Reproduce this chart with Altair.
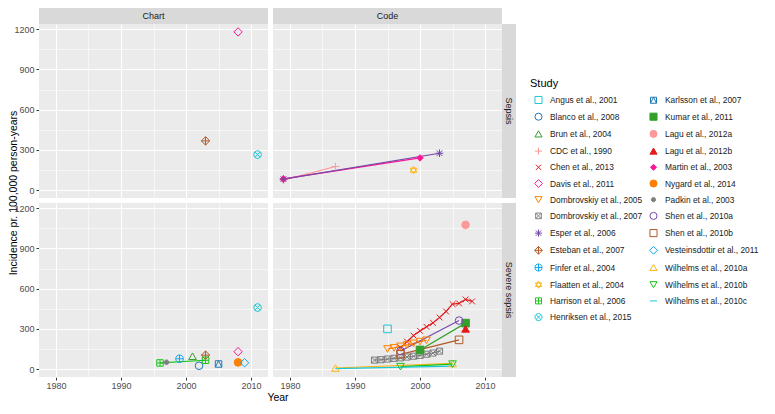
import altair as alt
import pandas as pd

# ---------------- data ----------------
studies_left = [
    "Angus et al., 2001", "Blanco et al., 2008", "Brun et al., 2004", "CDC et al., 1990",
    "Chen et al., 2013", "Davis et al., 2011", "Dombrovskiy et al., 2005",
    "Dombrovskiy et al., 2007", "Esper et al., 2006", "Esteban et al., 2007",
    "Finfer et al., 2004", "Flaatten et al., 2004", "Harrison et al., 2006",
    "Henriksen et al., 2015",
]
studies_right = [
    "Karlsson et al., 2007", "Kumar et al., 2011", "Lagu et al., 2012a", "Lagu et al., 2012b",
    "Martin et al., 2003", "Nygard et al., 2014", "Padkin et al., 2003", "Shen et al., 2010a",
    "Shen et al., 2010b", "Vesteinsdottir et al., 2011", "Wilhelms et al., 2010a",
    "Wilhelms et al., 2010b", "Wilhelms et al., 2010c",
]
studies = studies_left + studies_right

palette = ["#1CC8D4", "#1F78B4", "#33A02C", "#FB9A99", "#E31A1C", "#FF1493", "#FF7F00",
           "#7F7F7F", "#7548A8", "#B15928", "#12A8F0", "#FDB515", "#19C419"]

circle = "M-1,0A1,1,0,1,0,1,0A1,1,0,1,0,-1,0Z"
shape_paths = [
    "square",                                             # 0 open square
    "circle",                                             # 1 open circle
    "triangle-up",                                        # 2 open triangle
    "M-1,0H1M0,-1V1",                                     # 3 plus
    "M-0.75,-0.75L0.75,0.75M-0.75,0.75L0.75,-0.75",       # 4 cross
    "M0,-1.1L1.1,0L0,1.1L-1.1,0Z",                        # 5 open diamond
    "triangle-down",                                      # 6 down triangle
    "M-0.8,-0.8H0.8V0.8H-0.8ZM-0.8,-0.8L0.8,0.8M-0.8,0.8L0.8,-0.8",  # 7 square cross
    "M-1,0H1M0,-1V1M-0.75,-0.75L0.75,0.75M-0.75,0.75L0.75,-0.75",    # 8 asterisk
    "M0,-1.1L1.1,0L0,1.1L-1.1,0ZM-1.1,0H1.1M0,-1.1V1.1",             # 9 diamond plus
    circle + "M-1,0H1M0,-1V1",                            # 10 circle plus
    "M0,-1L0.87,0.5L-0.87,0.5ZM0,1L0.87,-0.5L-0.87,-0.5Z",  # 11 star of david
    "M-0.85,-0.85H0.85V0.85H-0.85ZM-0.85,0H0.85M0,-0.85V0.85",      # 12 square plus
    circle + "M-0.7,-0.7L0.7,0.7M-0.7,0.7L0.7,-0.7",     # 13 circle cross
    "M-0.85,-0.85H0.85V0.85H-0.85ZM-0.85,0.85L0,-0.85L0.85,0.85",    # 14 square triangle
    "square",                                             # 15 filled square
    "circle",                                             # 16 filled circle
    "triangle-up",                                        # 17 filled triangle
    "M0,-0.85L0.85,0L0,0.85L-0.85,0Z",                    # 18 filled diamond
    "circle",                                             # 19 filled circle
    "M-0.6,0A0.6,0.6,0,1,0,0.6,0A0.6,0.6,0,1,0,-0.6,0Z",  # 20 small circle
    "circle",                                             # 21
    "square",                                             # 22
    "M0,-1.1L1.1,0L0,1.1L-1.1,0Z",                        # 23 diamond
    "triangle-up",                                        # 24
    "triangle-down",                                      # 25
    "stroke",                                             # line only
]
filled_studies = ["Kumar et al., 2011", "Lagu et al., 2012a", "Lagu et al., 2012b",
                  "Martin et al., 2003", "Nygard et al., 2014", "Padkin et al., 2003"]

# (study, source, type, years, values)
series = [
    ("Davis et al., 2011", "Chart", "Sepsis", [2008], [1180]),
    ("Esteban et al., 2007", "Chart", "Sepsis", [2003], [367]),
    ("Henriksen et al., 2015", "Chart", "Sepsis", [2011], [265]),

    ("CDC et al., 1990", "Code", "Sepsis", [1979, 1987], [74, 176]),
    ("Martin et al., 2003", "Code", "Sepsis", [1979, 2000], [83, 240]),
    ("Esper et al., 2006", "Code", "Sepsis", [1979, 2003], [82, 275]),
    ("Flaatten et al., 2004", "Code", "Sepsis", [1999], [149]),

    ("Blanco et al., 2008", "Chart", "Severe sepsis", [2002], [25]),
    ("Brun et al., 2004", "Chart", "Severe sepsis", [2001], [96]),
    ("Davis et al., 2011", "Chart", "Severe sepsis", [2008], [130]),
    ("Esteban et al., 2007", "Chart", "Severe sepsis", [2003], [104]),
    ("Finfer et al., 2004", "Chart", "Severe sepsis", [1999], [77]),
    ("Harrison et al., 2006", "Chart", "Severe sepsis", [1996, 2003], [46, 66]),
    ("Henriksen et al., 2015", "Chart", "Severe sepsis", [2011], [459]),
    ("Karlsson et al., 2007", "Chart", "Severe sepsis", [2005], [38]),
    ("Nygard et al., 2014", "Chart", "Severe sepsis", [2008], [50]),
    ("Padkin et al., 2003", "Chart", "Severe sepsis", [1997], [51]),
    ("Vesteinsdottir et al., 2011", "Chart", "Severe sepsis", [2009], [47]),

    ("Angus et al., 2001", "Code", "Severe sepsis", [1995], [300]),
    ("Chen et al., 2013", "Code", "Severe sepsis",
     [1997, 1998, 1999, 2000, 2001, 2002, 2003, 2004, 2005, 2006, 2007, 2008],
     [160, 205, 250, 285, 315, 345, 385, 430, 485, 490, 520, 505]),
    ("Dombrovskiy et al., 2005", "Code", "Severe sepsis",
     [1995, 1996, 1997, 1998, 1999, 2000, 2001],
     [150, 158, 170, 180, 192, 205, 215]),
    ("Dombrovskiy et al., 2007", "Code", "Severe sepsis",
     [1993, 1994, 1995, 1996, 1997, 1998, 1999, 2000, 2001, 2002, 2003],
     [67, 70, 75, 80, 84, 90, 96, 102, 111, 120, 134]),
    ("Kumar et al., 2011", "Code", "Severe sepsis", [2000, 2007], [143, 343]),
    ("Lagu et al., 2012a", "Code", "Severe sepsis", [2007], [1076]),
    ("Lagu et al., 2012b", "Code", "Severe sepsis", [2007], [300]),
    ("Shen et al., 2010a", "Code", "Severe sepsis", [1997, 2006], [135, 362]),
    ("Shen et al., 2010b", "Code", "Severe sepsis", [1997, 2006], [110, 218]),
    ("Wilhelms et al., 2010a", "Code", "Severe sepsis", [1987, 2005], [8, 42]),
    ("Wilhelms et al., 2010b", "Code", "Severe sepsis", [1997, 2005], [18, 37]),
    ("Wilhelms et al., 2010c", "Code", "Severe sepsis", [1987, 2005], [4, 22]),
]

x_ticks = [1980, 1985, 1990, 1995, 2000, 2005, 2010]
y_ticks = [0, 150, 300, 450, 600, 750, 900, 1050, 1200]

rows = []
for study, src, typ, yrs, vals in series:
    for yr, v in zip(yrs, vals):
        rows.append({"Study": study, "Source": src, "Type": typ, "Year": yr, "Value": v})
df = pd.DataFrame(rows)

order = studies
stroke_range = [palette[i % 13] for i in range(len(order))]
fill_range = [palette[i % 13] if s in filled_studies else "transparent" for i, s in enumerate(order)]
shape_range = shape_paths

# ---------------- chart ----------------
FONT = "Liberation Sans"
W, H = 229, 174

legend = alt.Legend(title="Study", orient="none", legendX=491, legendY=54, columns=2,
                    columnPadding=2, rowPadding=4.2, symbolSize=50, symbolStrokeWidth=1,
                    symbolOffset=4, labelFontSize=8.4, labelColor="#1A1A1A", titleFontSize=11,
                    titleFontWeight="normal", titleColor="#000000", labelLimit=300,
                    titlePadding=6, labelOffset=7, symbolOpacity=1)

x_enc = alt.X("Year:Q",
              scale=alt.Scale(domain=[1977.4, 2012.6], nice=False, zero=False),
              axis=alt.Axis(values=x_ticks, title=None, format="d", labelPadding=1,
                            labelExpr="datum.value % 10 == 0 ? datum.label : ''",
                            gridWidth={"condition": {"test": "datum.value % 10 != 0", "value": 0.55}, "value": 1.1},
                            tickOpacity={"condition": {"test": "datum.value % 10 != 0", "value": 0}, "value": 1}))
y_enc = alt.Y("Value:Q",
              scale=alt.Scale(domain=[-59, 1239], nice=False, zero=False),
              axis=alt.Axis(values=y_ticks, title=None, format="d",
                            labelExpr="datum.value % 300 == 0 ? datum.label : ''",
                            gridWidth={"condition": {"test": "datum.value % 300 != 0", "value": 0.55}, "value": 1.1},
                            tickOpacity={"condition": {"test": "datum.value % 300 != 0", "value": 0}, "value": 1}))

stroke_enc = alt.Stroke("Study:N", scale=alt.Scale(domain=order, range=stroke_range), legend=legend)
fill_enc = alt.Fill("Study:N", scale=alt.Scale(domain=order, range=fill_range), legend=legend)
shape_enc = alt.Shape("Study:N", scale=alt.Scale(domain=order, range=shape_range), legend=legend)

cells = alt.Chart().transform_aggregate(n="count()", groupby=["Type", "Source"])
top_cells = cells.transform_filter("datum.Type == 'Sepsis'")
right_cells = cells.transform_filter("datum.Source == 'Code'")

strip_top = top_cells.mark_rect(color="#D9D9D9").encode(
    x=alt.value(0), x2=alt.value(W), y=alt.value(-16), y2=alt.value(0))
strip_top_text = top_cells.mark_text(fontSize=9, color="#1A1A1A", baseline="middle",
                                     align="center").encode(
    x=alt.value(W / 2), y=alt.value(-8), text="Source:N")
strip_right = right_cells.mark_rect(color="#D9D9D9").encode(
    x=alt.value(W), x2=alt.value(W + 14), y=alt.value(0), y2=alt.value(H))
strip_right_text = right_cells.mark_text(fontSize=9, color="#1A1A1A", baseline="middle",
                                         align="center", angle=90).encode(
    x=alt.value(W + 7), y=alt.value(H / 2), text="Type:N")

lines = alt.Chart().mark_line(strokeWidth=1.2).encode(
    x=x_enc, y=y_enc, stroke=stroke_enc, detail="Study:N", order="Year:Q")

points = alt.Chart().transform_filter(
    "datum.Study != 'Wilhelms et al., 2010c'"
).mark_point(size=58, strokeWidth=1, opacity=1).encode(
    x=x_enc, y=y_enc, stroke=stroke_enc, fill=fill_enc, shape=shape_enc)

layered = alt.layer(strip_top, strip_right, strip_top_text, strip_right_text, lines, points,
                    data=df).properties(width=W, height=H)

chart = layered.facet(
    row=alt.Row("Type:N", sort=["Sepsis", "Severe sepsis"],
                header=alt.Header(title="Incidence pr. 100,000 person-years", titleOrient="left",
                                  labels=False, labelOrient="left", labelPadding=0,
                                  titleFontSize=10.5,
                                  titleFontWeight="normal", titleColor="#000000",
                                  titleFont=FONT, titlePadding=-16)),
    column=alt.Column("Source:N", sort=["Chart", "Code"],
                      header=alt.Header(title="Year", titleOrient="bottom", labels=False,
                                        labelOrient="bottom", labelPadding=0,
                                        titleFontSize=10.5, titleFontWeight="normal",
                                        titleColor="#000000", titleFont=FONT, titlePadding=-7)),
    spacing={"row": 5, "column": 5},
    bounds="flush",
).properties(
    padding={"left": 0, "top": 0, "right": 0, "bottom": 0}
).configure(font=FONT).configure_view(
    fill="#EBEBEB", strokeWidth=0
).configure_axis(
    gridColor="#FFFFFF", domain=False, tickColor="#333333", tickSize=3,
    labelFontSize=9, labelColor="#4D4D4D", labelPadding=2, labelFont=FONT
)

chart.save("out.html", embed_options={"renderer": "svg", "actions": False})
